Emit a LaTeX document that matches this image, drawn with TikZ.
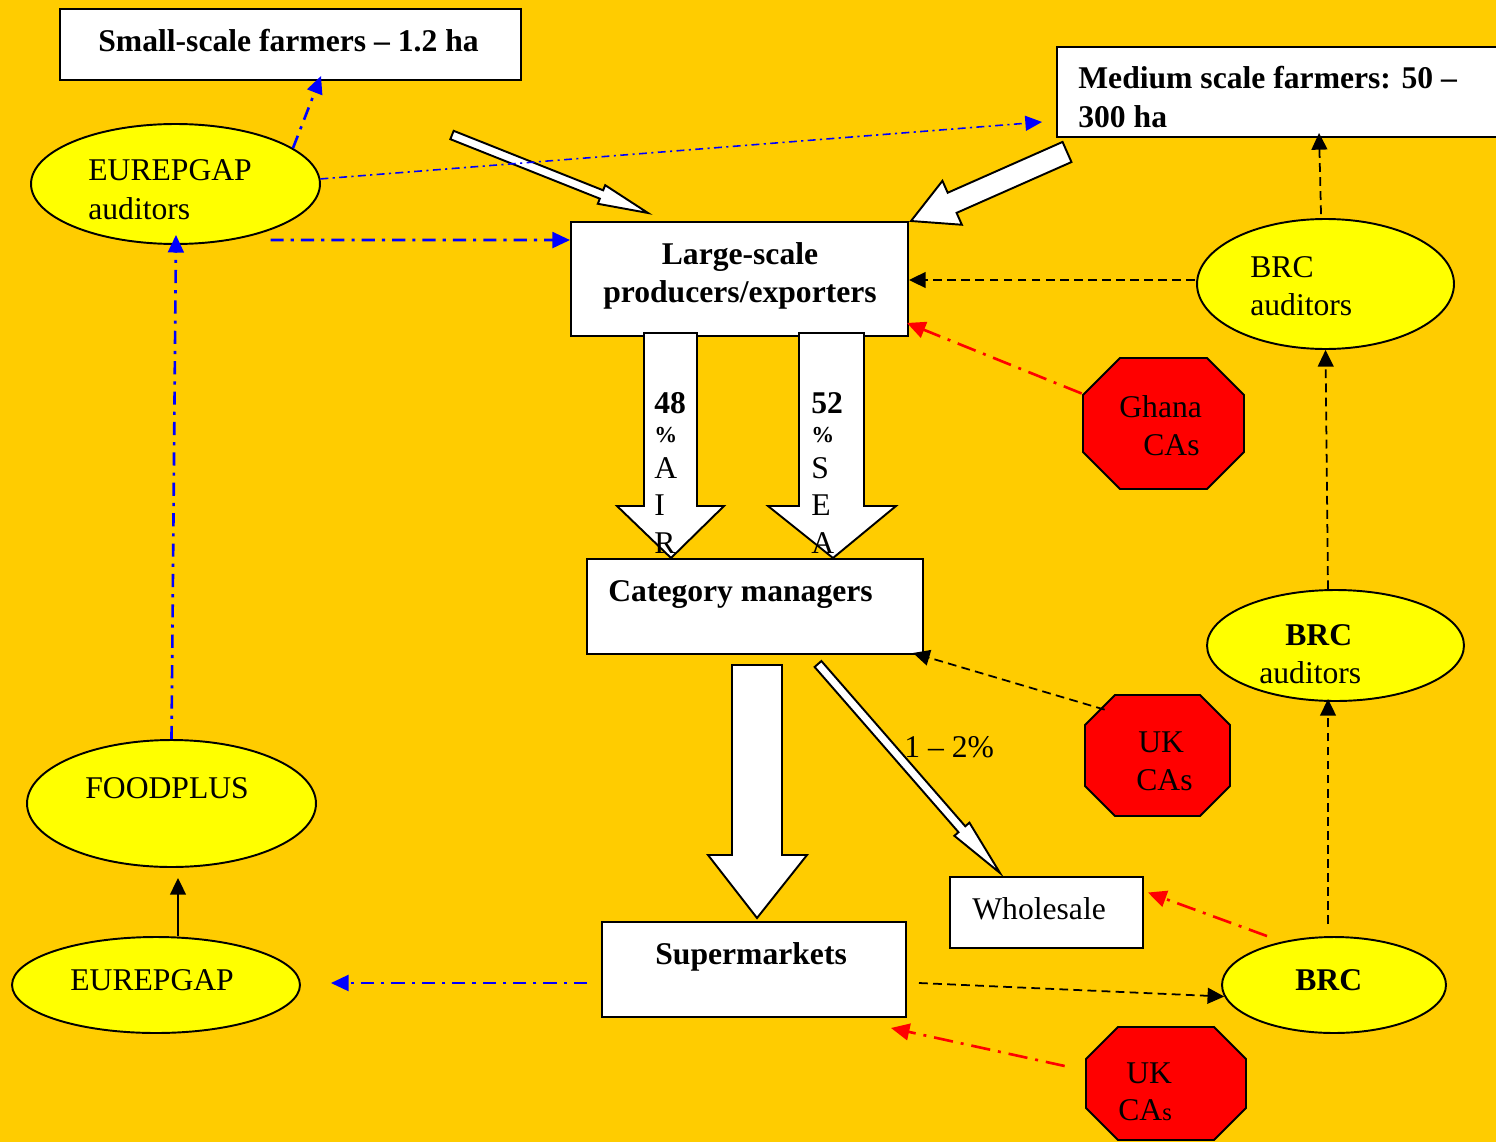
\documentclass[tikz,border=0pt]{standalone}
\usepackage{fontspec}
\setmainfont{Liberation Serif}
\usetikzlibrary{arrows.meta,calc,fit,shapes.geometric}
\definecolor{bgc}{HTML}{FFCC00}
\definecolor{ellc}{HTML}{FFFF00}
\definecolor{octc}{HTML}{FF0000}
\definecolor{blc}{HTML}{0000FF}
\newcommand\blockarrowdraw[7]{% x y angle len w h hl
\begin{scope}[shift={(#1,#2)},rotate=#3]
\draw[blockarr] (0,-#5)--(#4-#7,-#5)--(#4-#7,-#6)--(#4,0)--(#4-#7,#6)--(#4-#7,#5)--(0,#5)--cycle;
\end{scope}}
\newcommand\octodraw[5]{%
\draw[octs] (#1+#5,#2)--(#3-#5,#2)--(#3,#2+#5)--(#3,#4-#5)--(#3-#5,#4)--(#1+#5,#4)--(#1,#4-#5)--(#1,#2+#5)--cycle;}
\begin{document}
\begin{tikzpicture}[x=0.02cm,y=-0.02cm,
  box/.style={draw=black,line width=1.1pt,fill=white,inner sep=0pt},
  ellnode/.style={ellipse,draw=black,line width=1.1pt,fill=ellc,inner sep=0pt},
  octs/.style={draw=black,line width=1.1pt,fill=octc,line join=miter},
  blockarr/.style={draw=black,line width=1.1pt,fill=white,line join=miter},
  txt/.style={inner sep=0pt,font=\fontsize{18}{21.5}\selectfont},
  btxt/.style={inner sep=0pt,font=\fontsize{18}{21.5}\selectfont\bfseries},
  pctxt/.style={inner sep=0pt,font=\fontsize{13}{13}\selectfont\bfseries},
  bdd/.style={draw=blc,line width=1.5pt,dash pattern=on 7.5pt off 4pt on 1.8pt off 4pt,-{Triangle[length=10pt,width=9pt]}},
  bddthin/.style={draw=blc,line width=0.9pt,dash pattern=on 4.5pt off 2.5pt on 1.2pt off 2.5pt,-{Triangle[length=9.5pt,width=8.5pt]}},
  rdd/.style={draw=red,line width=1.5pt,dash pattern=on 11pt off 4.5pt on 1.7pt off 4.5pt,-{Triangle[length=10.5pt,width=9.5pt]}},
  kdash/.style={draw=black,line width=1pt,dash pattern=on 5pt off 3pt,-{Triangle[length=9.5pt,width=9pt]}},
  ksolid/.style={draw=black,line width=1pt,-{Triangle[length=9.5pt,width=9pt]}}
]
\useasboundingbox (0,0) rectangle (1496,1142);
\fill[bgc] (0,0) rectangle (1496,1142);

% boxes
\node[box,fit={(60,9)(521,80)}] (ssf) {};
\node[box,fit={(1057,47)(1500,137)}] (mf) {};
\node[box,fit={(571,222)(908,336)}] (lsp) {};
\node[box,fit={(587,559)(923,654)}] (cm) {};
\node[box,fit={(950,877)(1143,948)}] (ws) {};
\node[box,fit={(602,922)(906,1017)}] (sm) {};

% ellipses
\node[ellnode,minimum width=5.78cm,minimum height=2.4cm] (ea) at (175.5,184) {};
\node[ellnode,minimum width=5.14cm,minimum height=2.6cm] (brct) at (1325.5,284) {};
\node[ellnode,minimum width=5.14cm,minimum height=2.22cm] (brcm) at (1335.5,645.5) {};
\node[ellnode,minimum width=5.78cm,minimum height=2.54cm] (fp) at (171.5,803.5) {};
\node[ellnode,minimum width=5.76cm,minimum height=1.92cm] (eb) at (156,985) {};
\node[ellnode,minimum width=4.48cm,minimum height=1.92cm] (brcb) at (1334,985) {};

% octagons
\octodraw{1083}{358}{1244}{489}{37}
\node[fit={(1083,358)(1244,489)},inner sep=0pt] (gh) {};
\octodraw{1085}{695}{1230}{816}{30}
\node[fit={(1085,695)(1230,816)},inner sep=0pt] (ukm) {};
\octodraw{1086}{1027}{1246}{1140}{32}
\node[fit={(1086,1027)(1246,1140)},inner sep=0pt] (ukb) {};

% block arrows
\blockarrowdraw{452}{135}{-21.7}{210.9}{4.5}{10}{50}
\blockarrowdraw{1067}{152}{203.86}{170.6}{11}{24}{45}
\blockarrowdraw{818}{664}{-48.95}{277.1}{4.5}{10}{58}
\draw[blockarr] (644,333)--(644,506)--(617,506)--(671,558)--(724,506)--(697,506)--(697,333)--cycle;
\draw[blockarr] (799,333)--(799,506)--(768,506)--(833,558)--(896,506)--(864,506)--(864,333)--cycle;
\draw[blockarr] (732,665)--(732,855)--(708,855)--(757,918)--(807,855)--(782,855)--(782,665)--cycle;

% connectors
\draw[bdd] (ea.17) -- ($(ssf.south west)+(262,-5)$);
\draw[bddthin] (ea.2) -- ($(mf.south west)+(-14,-16)$);
\draw[bdd] ($(ea.south)+(95,-5)$) -- ($(lsp.north west)+(0,19)$);
\draw[bdd] (fp.north) -- ($(ea.south)+(0.5,-10)$);
\draw[ksolid] ($(eb.north)+(22,0)$) -- ($(fp.south)+(6.5,10)$);
\draw[bdd] ($(sm.west)+(-14,13.5)$) -- ($(eb.east)+(30,-2)$);
\draw[kdash] ($(sm.east)+(12,13.5)$) -- (brcb.186);
\draw[rdd] ($(ukb.west)+(-21,-17.5)$) -- ($(sm.south east)+(-16,10)$);
\draw[rdd] ($(brcb.north)+(-67,0)$) -- ($(ws.east)+(4,-20)$);
\draw[kdash] ($(brcb.north)+(-6,-12)$) -- ($(brcm.south)+(-7.5,-3)$);
\draw[kdash] ($(brcm.north)+(-7.5,0)$) -- (brct.south);
\draw[kdash] ($(brct.north)+(-4.5,-4)$) -- ($(mf.south west)+(263,-5)$);
\draw[kdash] ($(brct.west)+(-1,-4)$) -- ($(lsp.east)+(0,1)$);
\draw[rdd] ($(gh.west)+(-1,-30)$) -- ($(lsp.south east)+(-2,-14)$);
\draw[kdash] ($(ukm.north west)+(20,15)$) -- ($(cm.south east)+(-11,-2)$);

% texts
\node[btxt,anchor=base west] (tssf) at (98,52) {Small-scale farmers – 1.2 ha};
\node[btxt,anchor=base west] (tmf1) at (1078,89) {Medium scale farmers: 50 –};
\node[btxt,anchor=base west] (tmf2) at (1078,128) {300 ha};
\node[txt,anchor=base west] (tea1) at (88,181) {EUREPGAP};
\node[txt,anchor=base west] (tea2) at (88,219) {auditors};
\node[btxt,anchor=base] (tl1) at (740,264) {Large-scale};
\node[btxt,anchor=base] (tl2) at (740,302) {producers/exporters};
\node[txt,anchor=base west] (tbt1) at (1250,277) {BRC};
\node[txt,anchor=base west] (tbt2) at (1250,315) {auditors};
\node[txt,anchor=base west] (tgh1) at (1119,417) {Ghana};
\node[txt,anchor=base west] (tgh2) at (1143,455) {CAs};
\node[btxt,anchor=base west] (a1) at (654,413) {48};
\node[pctxt,anchor=base west] (a2) at (654,442) {\%};
\node[txt,anchor=base west] (a3) at (654,478) {A};
\node[txt,anchor=base west] (a4) at (654,515) {I};
\node[txt,anchor=base west] (a5) at (654,553) {R};
\node[btxt,anchor=base west] (s1) at (811,413) {52};
\node[pctxt,anchor=base west] (s2) at (811,442) {\%};
\node[txt,anchor=base west] (s3) at (811,478) {S};
\node[txt,anchor=base west] (s4) at (811,515) {E};
\node[txt,anchor=base west] (s5) at (811,553) {A};
\node[btxt,anchor=base west] (tcm) at (608,601) {Category managers};
\node[txt,anchor=base west] (tpct) at (904,757) {1 – 2\%};
\node[txt,anchor=base west] (tuk1) at (1138,752) {UK};
\node[txt,anchor=base west] (tuk2) at (1136,790) {CAs};
\node[btxt,anchor=base west] (tbm1) at (1285,645) {BRC};
\node[txt,anchor=base west] (tbm2) at (1259,683) {auditors};
\node[txt,anchor=base west] (tfp) at (85,798) {FOODPLUS};
\node[txt,anchor=base west] (tws) at (972,919) {Wholesale};
\node[txt,anchor=base west] (teb) at (70,990) {EUREPGAP};
\node[btxt,anchor=base west] (tsm) at (655,964) {Supermarkets};
\node[btxt,anchor=base west] (tbb) at (1295,990) {BRC};
\node[txt,anchor=base west] (tub1) at (1126,1083) {UK};
\node[txt,anchor=base west] (tub2) at (1118,1120) {CA{\fontsize{14}{14}\selectfont s}};
\end{tikzpicture}
\end{document}
